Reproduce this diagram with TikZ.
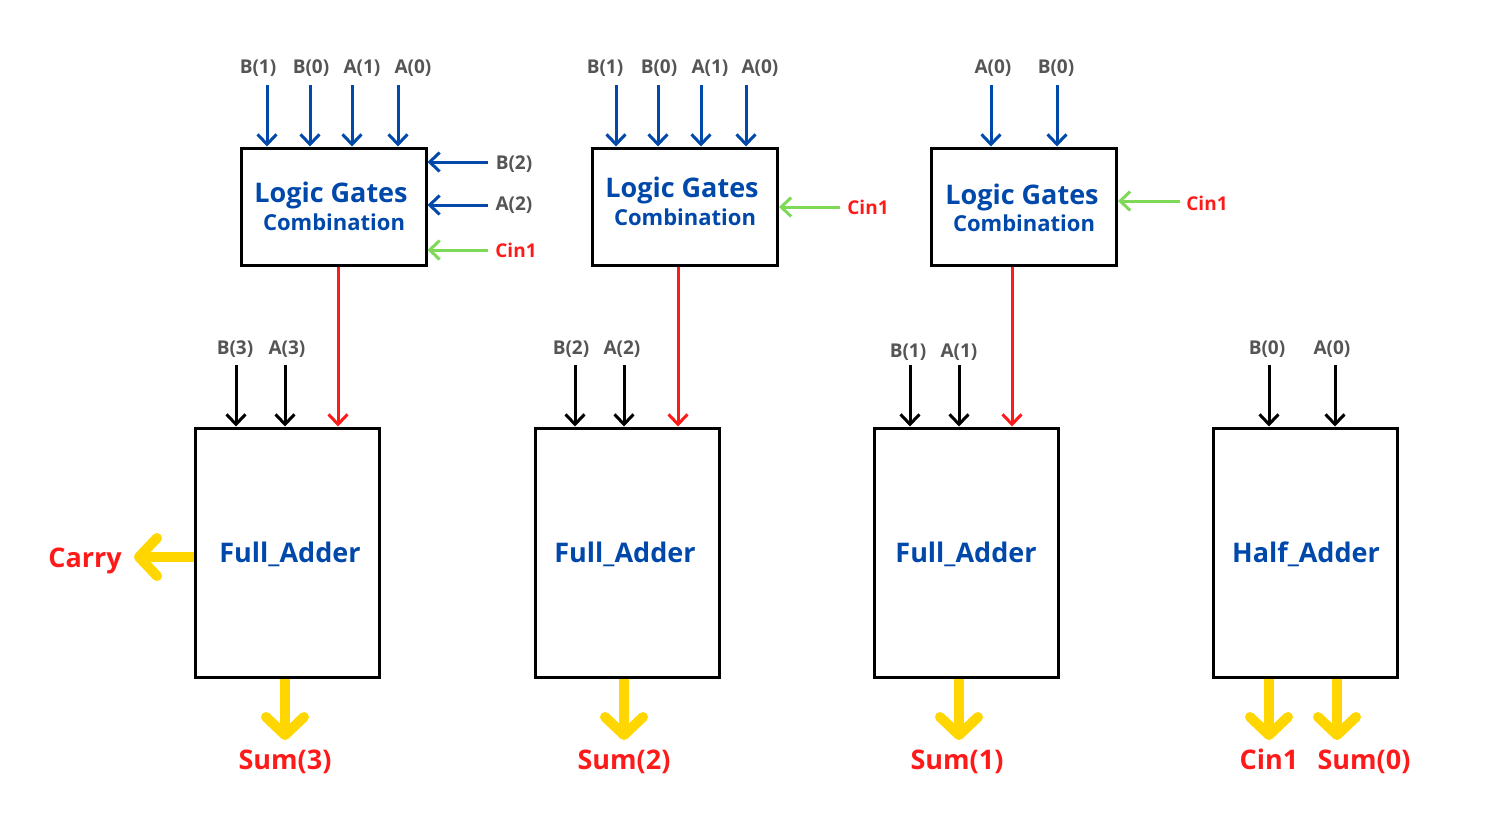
\documentclass[tikz,border=0pt]{standalone}
\usepackage{fontspec}
\setmainfont{Open Sans}
\usetikzlibrary{arrows.meta}
\definecolor{lblue}{RGB}{0,72,170}
\definecolor{lgray}{RGB}{85,85,85}
\definecolor{lred}{RGB}{255,26,26}
\definecolor{lgreen}{RGB}{126,217,87}
\definecolor{lyellow}{RGB}{255,214,0}
\tikzset{
  lgbox/.style={draw=black, line width=1.5pt, minimum width=92.5pt, minimum height=58.5pt, inner sep=0pt},
  lgtitle/.style={text=lblue, font=\bfseries\fontsize{13.5}{16}\selectfont, inner sep=0pt, anchor=base},
  lgsub/.style={text=lblue, font=\bfseries\fontsize{11}{13}\selectfont, inner sep=0pt, anchor=base},
  addbox/.style={draw=black, line width=1.5pt, minimum width=92pt, minimum height=124.5pt, inner sep=0pt},
  addtitle/.style={text=lblue, font=\bfseries\fontsize{13.5}{16}\selectfont, inner sep=0pt, anchor=base},
  inlabel/.style={text=lgray, font=\bfseries\fontsize{9.5}{11}\selectfont, inner sep=0pt, anchor=base},
  redlabel/.style={text=lred, font=\bfseries\fontsize{9.5}{11}\selectfont, inner sep=0pt, anchor=base},
  outlabel/.style={text=lred, font=\bfseries\fontsize{13.5}{16}\selectfont, inner sep=0pt, anchor=base},
  thinarrow/.style={line width=1.5pt, -{Straight Barb[length=5pt,width=9.5pt]}},
  bluearrow/.style={thinarrow, draw=lblue},
  blackarrow/.style={thinarrow, draw=black},
  redarrow/.style={thinarrow, draw=lred},
  greenarrow/.style={thinarrow, draw=lgreen},
  fatarrow/.style={line width=5pt, draw=lyellow, -{Straight Barb[length=9pt,width=19pt,round]}},
}
\begin{document}
\begin{tikzpicture}[x=0.5pt,y=-0.5pt]
\useasboundingbox (0,0) rectangle (1501,820);

% ---------- Logic gate boxes ----------
\node[lgbox] (lg1) at (333.5,206.5) {};
\node[lgbox] (lg2) at (685,206.5) {};
\node[lgbox] (lg3) at (1024,206.5) {};
\node[lgtitle] (lg1a) at (331,202) {Logic Gates};
\node[lgsub] (lg1b) at (334,230) {Combination};
\node[lgtitle] (lg2a) at (682,197) {Logic Gates};
\node[lgsub] (lg2b) at (685,225) {Combination};
\node[lgtitle] (lg3a) at (1022,204) {Logic Gates};
\node[lgsub] (lg3b) at (1024,231) {Combination};

% ---------- Adder boxes ----------
\node[addbox] (fa1) at (287,552.5) {};
\node[addbox] (fa2) at (627.5,552.5) {};
\node[addbox] (fa3) at (966.5,552.5) {};
\node[addbox] (ha) at (1305.5,552.5) {};
\node[addtitle] (fa1t) at (290,562) {Full\_Adder};
\node[addtitle] (fa2t) at (625,562) {Full\_Adder};
\node[addtitle] (fa3t) at (966,562) {Full\_Adder};
\node[addtitle] (hat) at (1306,562) {Half\_Adder};

% ---------- LG1 inputs ----------
\node[inlabel] (l1t1) at (258,73) {B(1)};
\node[inlabel] (l1t2) at (311,73) {B(0)};
\node[inlabel] (l1t3) at (362,73) {A(1)};
\node[inlabel] (l1t4) at (413,73) {A(0)};
\coordinate (c1t1) at (267,85);
\coordinate (c1t2) at (310,85);
\coordinate (c1t3) at (352,85);
\coordinate (c1t4) at (398,85);
\foreach \c in {c1t1,c1t2,c1t3,c1t4}
  \draw[bluearrow] (\c) -- (\c |- lg1.north);
\node[inlabel] (l1s1) at (514,169) {B(2)};
\node[inlabel] (l1s2) at (514,210) {A(2)};
\node[redlabel] (l1s3) at (516,257) {Cin1};
\coordinate (c1s1) at (488,162);
\coordinate (c1s2) at (488,205);
\coordinate (c1s3) at (488,250);
\draw[bluearrow] (c1s1) -- (c1s1 -| lg1.east);
\draw[bluearrow] (c1s2) -- (c1s2 -| lg1.east);
\draw[greenarrow] (c1s3) -- (c1s3 -| lg1.east);

% ---------- LG2 inputs ----------
\node[inlabel] (l2t1) at (605,73) {B(1)};
\node[inlabel] (l2t2) at (659,73) {B(0)};
\node[inlabel] (l2t3) at (710,73) {A(1)};
\node[inlabel] (l2t4) at (760,73) {A(0)};
\coordinate (c2t1) at (616,85);
\coordinate (c2t2) at (658,85);
\coordinate (c2t3) at (701,85);
\coordinate (c2t4) at (746,85);
\foreach \c in {c2t1,c2t2,c2t3,c2t4}
  \draw[bluearrow] (\c) -- (\c |- lg2.north);
\node[redlabel] (l2s) at (868,214) {Cin1};
\coordinate (c2s) at (840,207);
\draw[greenarrow] (c2s) -- (c2s -| lg2.east);

% ---------- LG3 inputs ----------
\node[inlabel] (l3t1) at (993,73) {A(0)};
\node[inlabel] (l3t2) at (1056,73) {B(0)};
\coordinate (c3t1) at (991,85);
\coordinate (c3t2) at (1057,85);
\foreach \c in {c3t1,c3t2}
  \draw[bluearrow] (\c) -- (\c |- lg3.north);
\node[redlabel] (l3s) at (1207,210) {Cin1};
\coordinate (c3s) at (1180,201);
\draw[greenarrow] (c3s) -- (c3s -| lg3.east);

% ---------- carries from LG to FA ----------
\coordinate (r1) at (338,0);
\coordinate (r2) at (678,0);
\coordinate (r3) at (1012,0);
\draw[redarrow] (r1 |- lg1.south) -- (r1 |- fa1.north);
\draw[redarrow] (r2 |- lg2.south) -- (r2 |- fa2.north);
\draw[redarrow] (r3 |- lg3.south) -- (r3 |- fa3.north);

% ---------- adder inputs ----------
\node[inlabel] (f1a) at (235,354) {B(3)};
\node[inlabel] (f1b) at (287,354) {A(3)};
\coordinate (cf1a) at (236,365);
\coordinate (cf1b) at (285,365);
\node[inlabel] (f2a) at (571,354) {B(2)};
\node[inlabel] (f2b) at (622,354) {A(2)};
\coordinate (cf2a) at (575,365);
\coordinate (cf2b) at (624,365);
\node[inlabel] (f3a) at (908,357) {B(1)};
\node[inlabel] (f3b) at (959,357) {A(1)};
\coordinate (cf3a) at (910,365);
\coordinate (cf3b) at (959,365);
\node[inlabel] (h1a) at (1267,354) {B(0)};
\node[inlabel] (h1b) at (1332,354) {A(0)};
\coordinate (cha) at (1269,365);
\coordinate (chb) at (1335,365);
\draw[blackarrow] (cf1a) -- (cf1a |- fa1.north);
\draw[blackarrow] (cf1b) -- (cf1b |- fa1.north);
\draw[blackarrow] (cf2a) -- (cf2a |- fa2.north);
\draw[blackarrow] (cf2b) -- (cf2b |- fa2.north);
\draw[blackarrow] (cf3a) -- (cf3a |- fa3.north);
\draw[blackarrow] (cf3b) -- (cf3b |- fa3.north);
\draw[blackarrow] (cha) -- (cha |- ha.north);
\draw[blackarrow] (chb) -- (chb |- ha.north);

% ---------- outputs ----------
\node[outlabel] (carry) at (85,567) {Carry};
\coordinate (ccarry) at (134,557);
\draw[fatarrow] (ccarry -| fa1.west) -- (ccarry);

\node[outlabel] (s3) at (285,769) {Sum(3)};
\node[outlabel] (s2) at (624,769) {Sum(2)};
\node[outlabel] (s1) at (957,769) {Sum(1)};
\node[outlabel] (hc) at (1269,769) {Cin1};
\node[outlabel] (s0) at (1364,769) {Sum(0)};
\coordinate (cs3) at (285,740);
\coordinate (cs2) at (624,740);
\coordinate (cs1) at (959,740);
\coordinate (chc) at (1269,740);
\coordinate (cs0) at (1337,740);
\draw[fatarrow] (cs3 |- fa1.south) -- (cs3);
\draw[fatarrow] (cs2 |- fa2.south) -- (cs2);
\draw[fatarrow] (cs1 |- fa3.south) -- (cs1);
\draw[fatarrow] (chc |- ha.south) -- (chc);
\draw[fatarrow] (cs0 |- ha.south) -- (cs0);
\end{tikzpicture}
\end{document}
